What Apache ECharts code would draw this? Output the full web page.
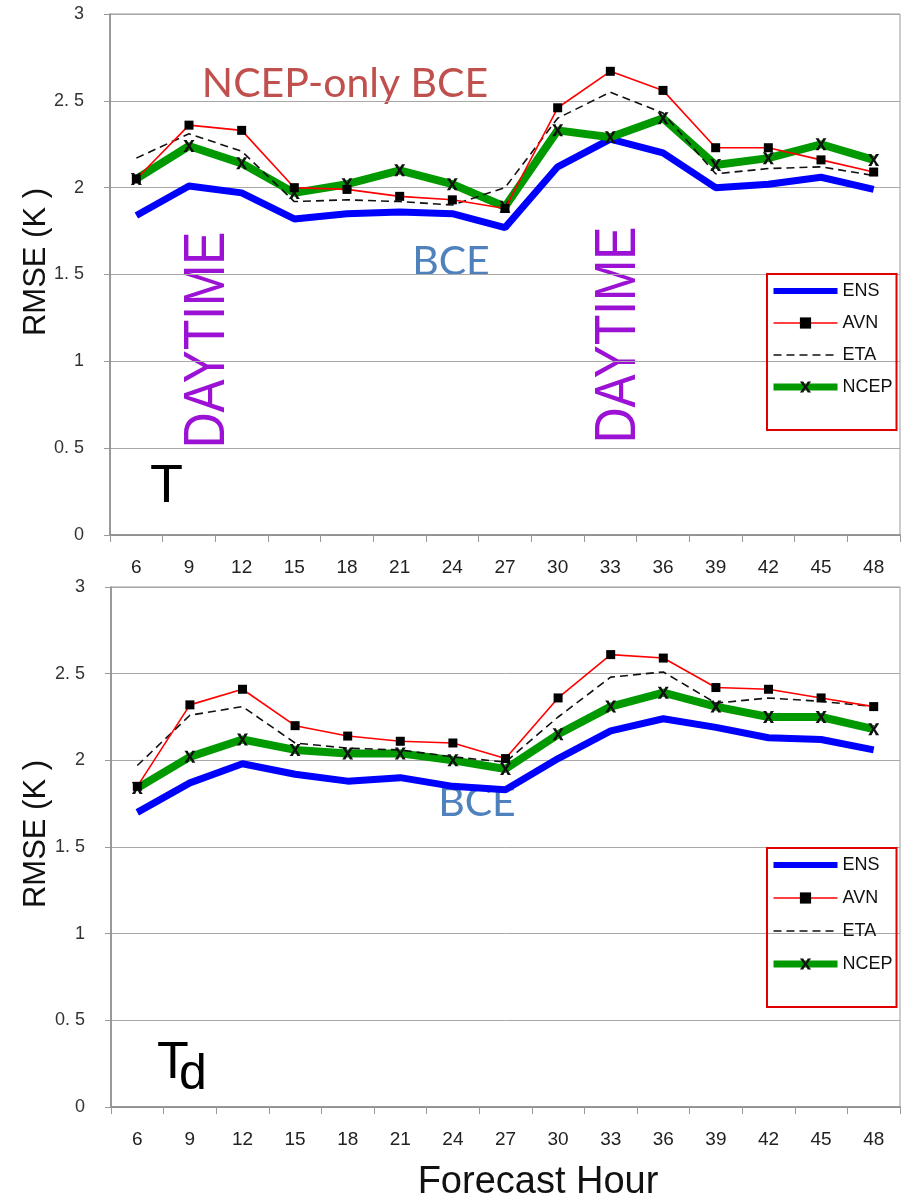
<!DOCTYPE html>
<html>
<head>
<meta charset="utf-8">
<script src="https://cdn.jsdelivr.net/npm/echarts@6/dist/echarts.min.js"></script>
<style>
html,body{margin:0;padding:0;background:#fff;}
#chart{width:903px;height:1201px;}
</style>
</head>
<body>
<div id="chart"></div>
<script>
// ---- data ----
const hours = ['6','9','12','15','18','21','24','27','30','33','36','39','42','45','48'];
const yTicks = [0, 0.5, 1, 1.5, 2, 2.5, 3];

// Temperature (T)
const tENS  = [1.84, 2.01, 1.97, 1.82, 1.85, 1.86, 1.85, 1.77, 2.12, 2.28, 2.20, 2.00, 2.02, 2.06, 1.99];
const tAVN  = [2.05, 2.36, 2.33, 2.00, 1.99, 1.95, 1.93, 1.88, 2.46, 2.67, 2.56, 2.23, 2.23, 2.16, 2.09];
const tETA  = [2.17, 2.31, 2.21, 1.92, 1.93, 1.92, 1.90, 2.00, 2.40, 2.55, 2.43, 2.08, 2.11, 2.12, 2.07];
const tNCEP = [2.05, 2.24, 2.14, 1.97, 2.02, 2.10, 2.02, 1.89, 2.33, 2.29, 2.40, 2.13, 2.17, 2.25, 2.16];

// Dew point (Td)
const dENS  = [1.70, 1.87, 1.98, 1.92, 1.88, 1.90, 1.85, 1.83, 2.01, 2.17, 2.24, 2.19, 2.13, 2.12, 2.06];
const dAVN  = [1.85, 2.32, 2.41, 2.20, 2.14, 2.11, 2.10, 2.01, 2.36, 2.61, 2.59, 2.42, 2.41, 2.36, 2.31];
const dETA  = [1.97, 2.26, 2.31, 2.10, 2.07, 2.06, 2.02, 1.99, 2.25, 2.48, 2.51, 2.33, 2.36, 2.34, 2.31];
const dNCEP = [1.84, 2.02, 2.12, 2.06, 2.04, 2.04, 2.00, 1.95, 2.15, 2.31, 2.39, 2.31, 2.25, 2.25, 2.18];

const seriesNames = ['ENS', 'AVN', 'ETA', 'NCEP'];

// ---- styling ----
const FONT = '"Liberation Sans", Arial, sans-serif';
const XMARK = 'path://M0,0L3,0L5,3.6L7,0L10,0L6.4,5L10,10L7,10L5,6.4L3,10L0,10L3.6,5Z';

function makeSeries(idx, ens, avn, eta, ncep) {
  return [
    { name: 'ENS', type: 'line', xAxisIndex: idx, yAxisIndex: idx, data: ens,
      symbol: 'none', lineStyle: { color: '#0000ff', width: 7 }, itemStyle: { color: '#0000ff' }, z: 2 },
    { name: 'NCEP', type: 'line', xAxisIndex: idx, yAxisIndex: idx, data: ncep,
      symbol: XMARK, symbolSize: [11, 12], showAllSymbol: true,
      lineStyle: { color: '#009a00', width: 8 }, itemStyle: { color: '#111', borderWidth: 0 }, z: 3 },
    { name: 'ETA', type: 'line', xAxisIndex: idx, yAxisIndex: idx, data: eta,
      symbol: 'none', lineStyle: { color: '#111', width: 1.6, type: [8, 5] }, itemStyle: { color: '#111' }, z: 4 },
    { name: 'AVN', type: 'line', xAxisIndex: idx, yAxisIndex: idx, data: avn,
      symbol: 'rect', symbolSize: 9, showAllSymbol: true,
      lineStyle: { color: '#ff0000', width: 1.6 }, itemStyle: { color: '#000', borderWidth: 0 }, z: 5 }
  ];
}

function xAxis(idx) {
  return {
    type: 'category', gridIndex: idx, data: hours, boundaryGap: true,
    axisLine: { lineStyle: { color: '#888', width: 1.5 } },
    axisTick: { show: true, length: 7, inside: false, lineStyle: { color: '#999' } },
    axisLabel: { color: '#222', fontSize: 19, fontFamily: FONT, margin: 23 },
    splitLine: { show: false }
  };
}
function yAxis(idx) {
  return {
    type: 'value', gridIndex: idx, min: 0, max: 3, interval: 0.5,
    axisLine: { show: true, lineStyle: { color: '#888', width: 1.5 } },
    axisTick: { show: true, length: 6, lineStyle: { color: '#999' } },
    axisLabel: { color: '#333', fontSize: 18, fontFamily: FONT, margin: 26,
      formatter: v => String(v).replace('.', '. ') },
    splitLine: { show: true, lineStyle: { color: '#a8a8a8', width: 1 } }
  };
}
function legend(top, gap) {
  return {
    orient: 'vertical', left: 767, top: top,
    data: [
      { name: 'ENS', itemStyle: { opacity: 0 }, lineStyle: { width: 6, color: '#0000ff' } },
      { name: 'AVN', lineStyle: { width: 1.6, color: '#ff0000' } },
      { name: 'ETA', itemStyle: { opacity: 0 }, lineStyle: { width: 1.6, color: '#111', type: [8, 5] } },
      { name: 'NCEP', lineStyle: { width: 7, color: '#009a00' } }
    ],
    itemWidth: 64, itemHeight: 14, itemGap: gap,
    padding: [8, 4, 34, 3],
    borderColor: '#e00000', borderWidth: 2,
    textStyle: { color: '#111', fontSize: 18, fontFamily: FONT },
    selectedMode: false
  };
}

const chart = echarts.init(document.getElementById('chart'), null, { renderer: 'canvas' });
chart.setOption({
  backgroundColor: '#fff',
  animation: false,
  grid: [
    { left: 110, right: 3, top: 14, height: 521, show: true, borderColor: '#999', borderWidth: 1 },
    { left: 111, right: 3, top: 587, height: 520, show: true, borderColor: '#999', borderWidth: 1 }
  ],
  xAxis: [xAxis(0), xAxis(1)],
  yAxis: [yAxis(0), yAxis(1)],
  legend: [legend(274, 14), legend(848, 15)],
  series: [].concat(makeSeries(0, tENS, tAVN, tETA, tNCEP), makeSeries(1, dENS, dAVN, dETA, dNCEP)),
  graphic: [
    { type: 'text', x: 36, y: 262, rotation: Math.PI / 2,
      style: { text: 'RMSE (K )', font: '31px ' + FONT, fill: '#111', textAlign: 'center', textVerticalAlign: 'middle' } },
    { type: 'text', x: 36, y: 834, rotation: Math.PI / 2,
      style: { text: 'RMSE (K )', font: '31px ' + FONT, fill: '#111', textAlign: 'center', textVerticalAlign: 'middle' } },
    { type: 'text', x: 538, y: 1183,
      style: { text: 'Forecast Hour', font: '38px ' + FONT, fill: '#111', textAlign: 'center', textVerticalAlign: 'middle' } },
    { type: 'text', x: 345, y: 84,
      style: { text: 'NCEP-only BCE', font: '41px Lato, "Open Sans", sans-serif', fill: '#c0504d', textAlign: 'center', textVerticalAlign: 'middle' } },
    { type: 'text', x: 451, y: 262,
      style: { text: 'BCE', font: '41px Lato, "Open Sans", sans-serif', fill: '#4f81bd', textAlign: 'center', textVerticalAlign: 'middle' } },
    { type: 'text', x: 477, y: 803,
      style: { text: 'BCE', font: '41px Lato, "Open Sans", sans-serif', fill: '#4f81bd', textAlign: 'center', textVerticalAlign: 'middle' } },
    { type: 'text', x: 208, y: 340, rotation: Math.PI / 2, scaleX: 0.87,
      style: { text: 'DAYTIME', font: '57px ' + FONT, fill: '#9b12d4', textAlign: 'center', textVerticalAlign: 'middle' } },
    { type: 'text', x: 619, y: 335, rotation: Math.PI / 2, scaleX: 0.87,
      style: { text: 'DAYTIME', font: '57px ' + FONT, fill: '#9b12d4', textAlign: 'center', textVerticalAlign: 'middle' } },
    { type: 'text', x: 150, y: 514,
      style: { text: 'T', font: '54px ' + FONT, fill: '#000', textAlign: 'left', textVerticalAlign: 'bottom' } },
    { type: 'text', x: 157, y: 1090,
      style: { text: 'T', font: '52px ' + FONT, fill: '#000', textAlign: 'left', textVerticalAlign: 'bottom' } },
    { type: 'text', x: 179, y: 1100,
      style: { text: 'd', font: '50px ' + FONT, fill: '#000', textAlign: 'left', textVerticalAlign: 'bottom' } }
  ]
});
</script>
</body>
</html>
